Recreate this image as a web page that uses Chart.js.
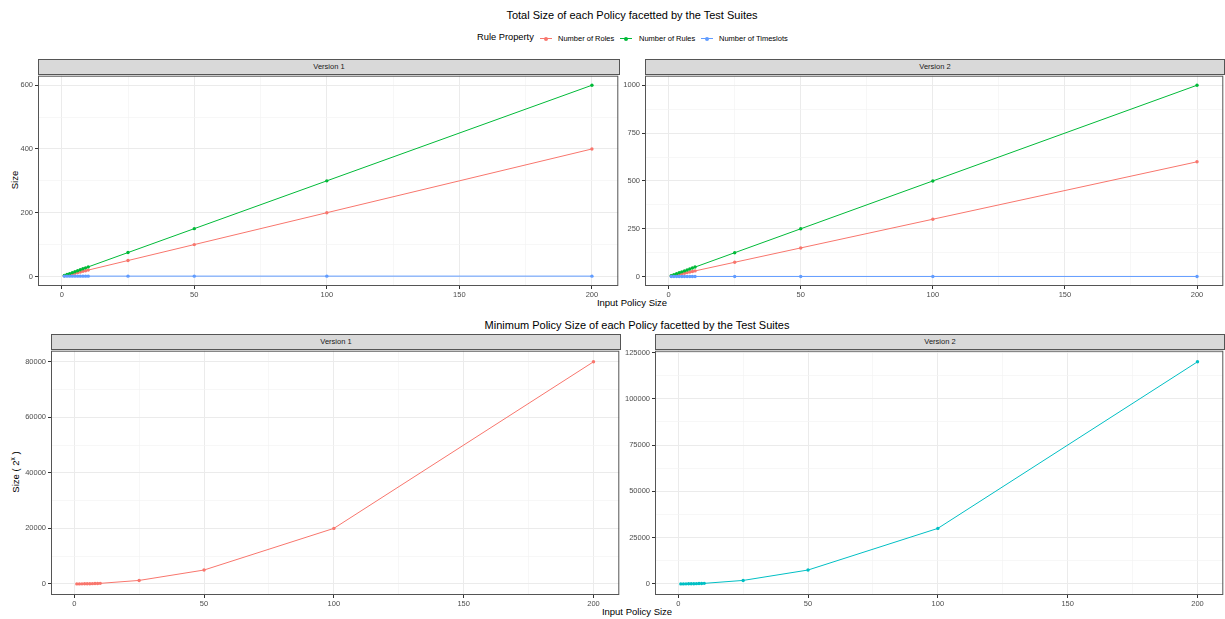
<!DOCTYPE html>
<html>
<head>
<meta charset="utf-8">
<script src="https://cdn.jsdelivr.net/npm/chart.js@4.4.1/dist/chart.umd.min.js"></script>
<style>
  body { margin:0; background:#fff; width:1225px; height:619px; position:relative; overflow:hidden;
         font-family:"Liberation Sans", Arial, Helvetica, sans-serif; }
  .txt { position:absolute; white-space:nowrap; color:#000; transform:translate(-50%,-50%); line-height:1; }
  .title { font-size:11px; }
  .axis-title { font-size:9.5px; }
  .ytitle { transform:translate(-50%,-50%) rotate(-90deg); }
  .strip { position:absolute; background:#D9D9D9; border:1px solid #555; box-sizing:border-box;
           font-size:7.5px; color:#1A1A1A; text-align:center; }
  .leg-title { position:absolute; font-size:9.3px; color:#000; white-space:nowrap; line-height:1; }
  .leg-text { position:absolute; font-size:7.5px; color:#000; white-space:nowrap; line-height:1; }
  .key-line { position:absolute; height:1px; width:12px; }
  .key-dot { position:absolute; width:4px; height:4px; border-radius:50%; }
  canvas { position:absolute; }
</style>
</head>
<body>

<div class="txt title" style="left:632px; top:15px;">Total Size of each Policy facetted by the Test Suites</div>
<div class="txt title" style="left:637px; top:325px;">Minimum Policy Size of each Policy facetted by the Test Suites</div>
<div class="txt axis-title" style="left:632px; top:303px;">Input Policy Size</div>
<div class="txt axis-title" style="left:637px; top:612px;">Input Policy Size</div>
<div class="txt axis-title ytitle" style="left:15px; top:180px;">Size</div>
<div class="txt axis-title ytitle" style="left:15px; top:472px;">Size ( 2<sup style="font-size:6.5px; vertical-align:4px;">x</sup> )</div>

<div id="legend"></div>

<script>
// Input policy sizes used by every test suite
const inputSizes = [1, 2, 3, 4, 5, 6, 7, 8, 9, 10, 25, 50, 100, 200];

// Version 1: total size per rule property
const v1Roles     = [2, 4, 6, 8, 10, 12, 14, 16, 18, 20, 50, 100, 200, 400];
const v1Rules     = [3, 6, 9, 12, 15, 18, 21, 24, 27, 30, 75, 150, 300, 600];
const v1Timeslots = [1, 1, 1, 1, 1, 1, 1, 1, 1, 1, 1, 1, 1, 1];

// Version 2: total size per rule property
const v2Roles     = [3, 6, 9, 12, 15, 18, 21, 24, 27, 30, 75, 150, 300, 600];
const v2Rules     = [5, 10, 15, 20, 25, 30, 35, 40, 45, 50, 125, 250, 500, 1000];
const v2Timeslots = [1, 1, 1, 1, 1, 1, 1, 1, 1, 1, 1, 1, 1, 1];

// Minimum policy size (2^x)
const v1MinSize = [2, 8, 18, 32, 50, 72, 98, 128, 162, 200, 1250, 5000, 20000, 80000];
const v2MinSize = [3, 12, 27, 48, 75, 108, 147, 192, 243, 300, 1875, 7500, 30000, 120000];

// Tick labels
const xTicks       = [0, 50, 100, 150, 200];
const yTicksTotV1  = [0, 200, 400, 600];
const yTicksTotV2  = [0, 250, 500, 750, 1000];
const yTicksMinV1  = [0, 20000, 40000, 60000, 80000];
const yTicksMinV2  = [0, 25000, 50000, 75000, 100000, 125000];

const seriesNames = ['Number of Roles', 'Number of Rules', 'Number of Timeslots'];
const panelNames  = ['Version 1', 'Version 2'];

const COLORS = { roles:'#F8766D', rules:'#00BA38', slots:'#619CFF', v2:'#00BFC4' };
const FONT = '"Liberation Sans", Arial, Helvetica, sans-serif';

// minor grid lines sit halfway between major breaks
function withMinor(major, lo, hi) {
  const out = major.map(v => ({ value: v, major: true }));
  for (let i = 0; i < major.length - 1; i++) {
    out.push({ value: (major[i] + major[i + 1]) / 2, major: false });
  }
  return out.filter(t => t.value >= lo && t.value <= hi).sort((a, b) => a.value - b.value);
}

const panelBorder = {
  id: 'panelBorder',
  afterDraw(chart) {
    const a = chart.chartArea, c = chart.ctx;
    c.save();
    c.strokeStyle = '#555';
    c.lineWidth = 1;
    c.strokeRect(a.left + 0.5, a.top + 0.5, a.right - a.left - 1, a.bottom - a.top - 1);
    c.restore();
  }
};

function scaleOpts(min, max, major, isX, width) {
  const ticks = withMinor(major, min, max);
  const isMajor = v => major.includes(v);
  return {
    type: 'linear',
    min, max,
    afterBuildTicks: s => { s.ticks = ticks.map(t => ({ value: t.value })); },
    afterFit: s => {
      if (isX) s.height = 16; else s.width = width;
      // keep the plot area flush with the canvas edges
      s.paddingTop = 0; s.paddingBottom = 0; s.paddingLeft = 0; s.paddingRight = 0;
    },
    border: { display: false },
    grid: {
      drawOnChartArea: true,
      drawTicks: true,
      tickLength: 3,
      color: ctx => (ctx.tick && isMajor(ctx.tick.value)) ? '#EBEBEB' : '#F3F3F3',
      lineWidth: ctx => (ctx.tick && isMajor(ctx.tick.value)) ? 1 : 0.7,
      tickColor: ctx => (ctx.tick && isMajor(ctx.tick.value)) ? '#333333' : 'rgba(0,0,0,0)',
      tickWidth: 1
    },
    ticks: {
      autoSkip: false,
      maxRotation: 0,
      padding: isX ? 1 : 2,
      color: '#4D4D4D',
      font: { family: FONT, size: 7.5 },
      callback: v => isMajor(v) ? String(v) : ''
    }
  };
}

function makePanel(rect, yMin, yMax, yMajor, series, stripText) {
  const YW = 44, XH = 16;
  const w = rect.r - rect.l + YW, h = rect.b - rect.t + XH;
  const cv = document.createElement('canvas');
  cv.width = w; cv.height = h;
  cv.style.left = (rect.l - YW) + 'px';
  cv.style.top = rect.t + 'px';
  cv.style.width = w + 'px';
  cv.style.height = h + 'px';
  document.body.appendChild(cv);

  const strip = document.createElement('div');
  strip.className = 'strip';
  strip.style.left = rect.l + 'px';
  strip.style.top = (rect.t - 15) + 'px';
  strip.style.width = (rect.r - rect.l) + 'px';
  strip.style.height = '16px';
  strip.style.lineHeight = '14px';
  strip.textContent = stripText;
  document.body.appendChild(strip);

  new Chart(cv, {
    type: 'line',
    data: {
      datasets: series.map(s => ({
        label: s.name,
        data: inputSizes.map((x, i) => ({ x, y: s.values[i] })),
        borderColor: s.color,
        backgroundColor: s.color,
        borderWidth: 1,
        pointRadius: 1.7,
        pointHoverRadius: 1.7,
        pointBorderWidth: 0,
        tension: 0,
        order: s.order
      }))
    },
    options: {
      responsive: false,
      animation: false,
      devicePixelRatio: 1,
      events: [],
      layout: { padding: 0 },
      plugins: { legend: { display: false }, tooltip: { enabled: false } },
      scales: {
        x: scaleOpts(-8.95, 209.95, xTicks, true),
        y: scaleOpts(yMin, yMax, yMajor, false, YW)
      }
    },
    plugins: [panelBorder]
  });
}

// Total size panels
makePanel({ l: 38, r: 620, t: 74, b: 286 }, -29.95, 629.95, yTicksTotV1, [
  { name: seriesNames[0], values: v1Roles, color: COLORS.roles, order: 3 },
  { name: seriesNames[1], values: v1Rules, color: COLORS.rules, order: 2 },
  { name: seriesNames[2], values: v1Timeslots, color: COLORS.slots, order: 1 }
], panelNames[0]);

makePanel({ l: 645, r: 1225, t: 74, b: 286 }, -48.95, 1049.95, yTicksTotV2, [
  { name: seriesNames[0], values: v2Roles, color: COLORS.roles, order: 3 },
  { name: seriesNames[1], values: v2Rules, color: COLORS.rules, order: 2 },
  { name: seriesNames[2], values: v2Timeslots, color: COLORS.slots, order: 1 }
], panelNames[1]);

// Minimum policy size panels
makePanel({ l: 51, r: 621, t: 349, b: 595 }, -3997.9, 83999.9, yTicksMinV1, [
  { name: panelNames[0], values: v1MinSize, color: COLORS.roles, order: 1 }
], panelNames[0]);

makePanel({ l: 655, r: 1225, t: 349, b: 595 }, -5997, 125999.85, yTicksMinV2, [
  { name: panelNames[1], values: v2MinSize, color: COLORS.v2, order: 1 }
], panelNames[1]);

// Legend for the rule properties
(function buildLegend() {
  const host = document.getElementById('legend');
  const add = (cls, style, text) => {
    const d = document.createElement('div');
    d.className = cls;
    Object.assign(d.style, style);
    if (text) d.textContent = text;
    host.appendChild(d);
  };
  add('leg-title', { left: '477px', top: '33px' }, 'Rule Property');
  const keys = [
    { x: 540, tx: 558, color: COLORS.roles },
    { x: 620, tx: 639, color: COLORS.rules },
    { x: 701, tx: 719, color: COLORS.slots }
  ];
  keys.forEach((k, i) => {
    add('key-line', { left: k.x + 'px', top: '38px', background: k.color });
    add('key-dot', { left: (k.x + 4) + 'px', top: '36.5px', background: k.color });
    add('leg-text', { left: k.tx + 'px', top: '34.5px' }, seriesNames[i]);
  });
})();
</script>
</body>
</html>
